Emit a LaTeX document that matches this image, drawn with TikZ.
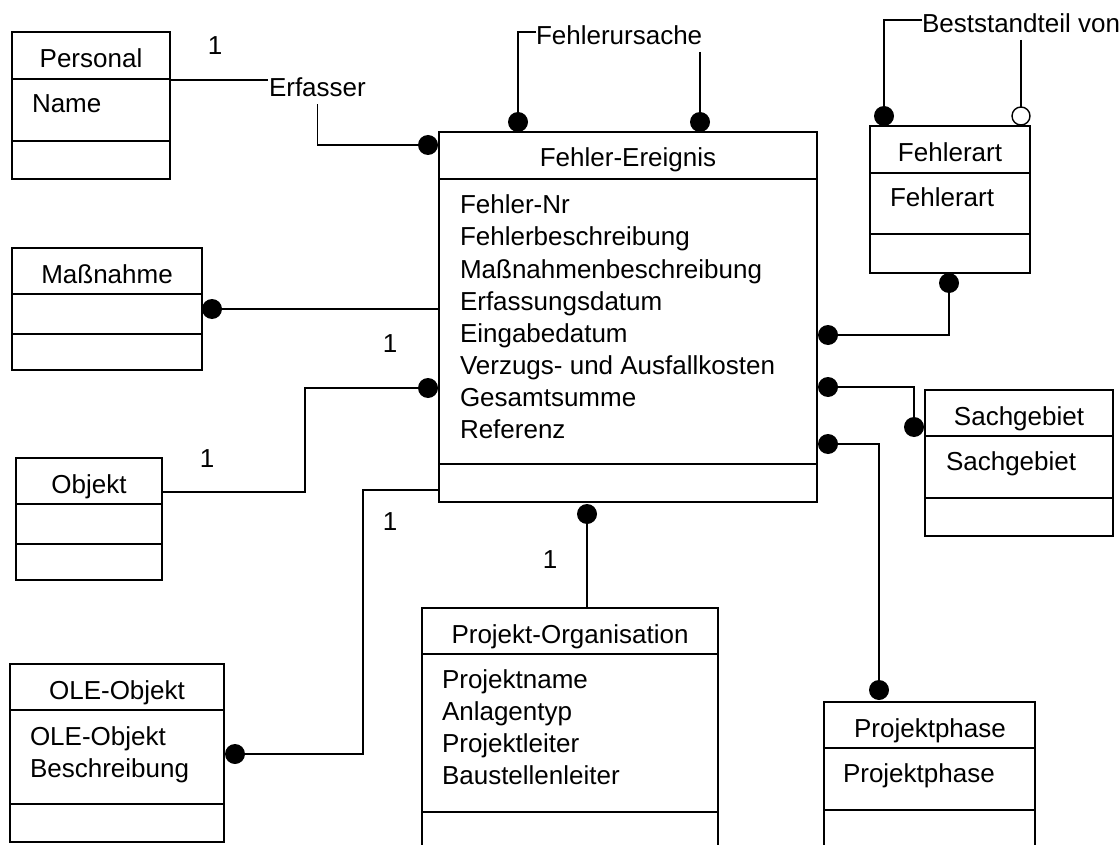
\documentclass[tikz,border=0pt]{standalone}
\usepackage{fontspec}
\setmainfont{Liberation Sans}
\usetikzlibrary{calc}
\begin{document}
\begin{tikzpicture}[x=1pt,y=-1pt,
  line width=1.8pt,
  cls/.style={draw, anchor=north west, inner sep=0pt, outer sep=0pt},
  txt/.style={inner sep=0pt, outer sep=0pt, font=\fontsize{26}{32}\selectfont},
  ttl/.style={txt, anchor=base},
  att/.style={txt, anchor=base west},
  dot/.style={circle, fill=black, draw=none, inner sep=0pt, outer sep=0pt, minimum size=20pt},
  odot/.style={circle, fill=white, draw=black, line width=1.4pt, inner sep=0pt, outer sep=0pt, minimum size=18pt}]
\clip (0,0) rectangle (1119,845);
\fill[white] (0,0) rectangle (1119,845);

% ---- class boxes: frame, compartment lines, title, attributes
% Personal
\node[cls, minimum width=158pt, minimum height=147pt] (pe) at (12,32) {};
\draw (pe.west |- 0,79) -- (pe.east |- 0,79) (pe.west |- 0,141) -- (pe.east |- 0,141);
\node[ttl] (pe-t) at (91,68) {Personal};
\node[att] (pe-a1) at (32,113) {Name};

% Massnahme
\node[cls, minimum width=190pt, minimum height=122pt] (ma) at (12,248) {};
\draw (ma.west |- 0,294) -- (ma.east |- 0,294) (ma.west |- 0,334) -- (ma.east |- 0,334);
\node[ttl] (ma-t) at (107,283) {Maßnahme};

% Objekt
\node[cls, minimum width=146pt, minimum height=122pt] (ob) at (16,458) {};
\draw (ob.west |- 0,504) -- (ob.east |- 0,504) (ob.west |- 0,544) -- (ob.east |- 0,544);
\node[ttl] (ob-t) at (89,493) {Objekt};

% OLE-Objekt
\node[cls, minimum width=214pt, minimum height=178pt] (ole) at (10,664) {};
\draw (ole.west |- 0,710) -- (ole.east |- 0,710) (ole.west |- 0,804) -- (ole.east |- 0,804);
\node[ttl] (ole-t) at (117,699) {OLE-Objekt};
\node[att] (ole-a1) at (30,745) {OLE-Objekt};
\node[att] (ole-a2) at (30,777) {Beschreibung};

% Fehler-Ereignis
\node[cls, minimum width=378pt, minimum height=370pt] (fe) at (439,132) {};
\draw (fe.west |- 0,179) -- (fe.east |- 0,179) (fe.west |- 0,464) -- (fe.east |- 0,464);
\node[ttl] (fe-t) at (628,167) {Fehler-Ereignis};
\node[att] (fe-a1) at (460,214) {Fehler-Nr};
\node[att] (fe-a2) at (460,246) {Fehlerbeschreibung};
\node[att] (fe-a3) at (460,278) {Maßnahmenbeschreibung};
\node[att] (fe-a4) at (460,310) {Erfassungsdatum};
\node[att] (fe-a5) at (460,342) {Eingabedatum};
\node[att] (fe-a6) at (460,374) {Verzugs- und Ausfallkosten};
\node[att] (fe-a7) at (460,406) {Gesamtsumme};
\node[att] (fe-a8) at (460,438) {Referenz};

% Fehlerart
\node[cls, minimum width=160pt, minimum height=147pt] (fa) at (870,126) {};
\draw (fa.west |- 0,173) -- (fa.east |- 0,173) (fa.west |- 0,234) -- (fa.east |- 0,234);
\node[ttl] (fa-t) at (950,162) {Fehlerart};
\node[att] (fa-a1) at (890,207) {Fehlerart};

% Sachgebiet
\node[cls, minimum width=188pt, minimum height=146pt] (sg) at (925,390) {};
\draw (sg.west |- 0,436) -- (sg.east |- 0,436) (sg.west |- 0,498) -- (sg.east |- 0,498);
\node[ttl] (sg-t) at (1019,425) {Sachgebiet};
\node[att] (sg-a1) at (946,470) {Sachgebiet};

% Projektphase
\node[cls, minimum width=211pt, minimum height=160pt] (pp) at (824,702) {};
\draw (pp.west |- 0,748) -- (pp.east |- 0,748) (pp.west |- 0,810) -- (pp.east |- 0,810);
\node[ttl] (pp-t) at (930,737) {Projektphase};
\node[att] (pp-a1) at (843,782) {Projektphase};

% Projekt-Organisation
\node[cls, minimum width=296pt, minimum height=254pt] (po) at (422,608) {};
\draw (po.west |- 0,654) -- (po.east |- 0,654) (po.west |- 0,812) -- (po.east |- 0,812);
\node[ttl] (po-t) at (570,643) {Projekt-Organisation};
\node[att] (po-a1) at (442,688) {Projektname};
\node[att] (po-a2) at (442,720) {Anlagentyp};
\node[att] (po-a3) at (442,752) {Projektleiter};
\node[att] (po-a4) at (442,784) {Baustellenleiter};

% ---- association labels and multiplicities
\node[att] (erf) at (269,97) {Erfasser};
\node[att] (fu) at (536,45) {Fehlerursache};
\node[att] (bv) at (922,33) {Beststandteil von};
\node[ttl] (m1) at (215,55) {1};
\node[ttl] (m2) at (390,352) {1};
\node[ttl] (m3) at (207,467) {1};
\node[ttl] (m4) at (390,530) {1};
\node[ttl] (m5) at (550,568) {1};

% ---- association ends
\node[dot] (d1) at (428,145) {};
\node[dot] (d2) at (518,122) {};
\node[dot] (d3) at (700,122) {};
\node[dot] (d4) at (212,309) {};
\node[dot] (d5) at (428,388) {};
\node[dot] (d6) at (828,335) {};
\node[dot] (d7) at (949,283) {};
\node[dot] (d8) at (828,387) {};
\node[dot] (d9) at (914,427) {};
\node[dot] (d10) at (828,444) {};
\node[dot] (d11) at (879,690) {};
\node[dot] (d12) at (587,514) {};
\node[dot] (d13) at (235,754) {};
\node[dot] (d14) at (884,116) {};
\node[odot] (o1) at (1021,116) {};

\coordinate (fu-end) at (700,52);
\coordinate (bv-end) at (1021,40);

% ---- connectors
\draw (pe.east |- 0,80) -- ([xshift=-1pt]erf.west |- 0,80);
\draw ([yshift=-7pt]erf.south) |- (d1);
\draw (fu.west |- 0,32) -| (d2);
\draw (fu-end) -- (d3);
\draw (bv.west |- 0,20) -| (d14);
\draw (bv-end) -- (o1);
\draw (d4) -- (fe.west |- d4);
\draw (ob.east |- 0,492) -| (305,388) -- (d5);
\draw (fe.west |- 0,490) -| (363,754) -- (d13);
\draw (d7) |- (d6);
\draw (d8) -| (d9);
\draw (d10) -| (d11);
\draw (d12) -- (po.north -| d12);
\end{tikzpicture}
\end{document}
